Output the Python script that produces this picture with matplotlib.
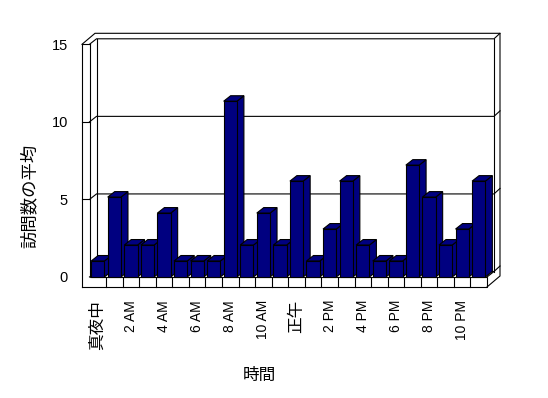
import numpy as np
import matplotlib
matplotlib.use("Agg")
import matplotlib.pyplot as plt
from matplotlib.lines import Line2D
from matplotlib.patches import Polygon

plt.rcParams["font.family"] = ["Liberation Sans", "Noto Sans CJK JP"]

# data
hours = list(range(24))
visits = [1, 5, 2, 2, 4, 1, 1, 1, 11, 2, 4, 2, 6, 1, 3, 6, 2, 1, 1, 7, 5, 2, 3, 6]
tick_labels = ["真夜中", "2 AM", "4 AM", "6 AM", "8 AM", "10 AM",
               "正午", "2 PM", "4 PM", "6 PM", "8 PM", "10 PM"]
yticks = [0, 5, 10, 15]
xlabel = "時間"
ylabel = "訪問数の平均"

navy = "#000080"
persp = 1.03          # bars sit a little nearer than the wall scale
D = (7, 5.5)          # depth of floor / bars, px
O = (13, 11)          # outer back of the wall slab, px
W = 7.5               # left wall thickness, px
F = 10                # floor thickness, px
lw = 0.8

fig = plt.figure(figsize=(5.48, 3.98), dpi=100)
L, R, B, T = 89.5, 487.0, 277.0, 44.3
ax = fig.add_axes([L / 548, 1 - B / 398, (R - L) / 548, (B - T) / 398])
ax.set_xlim(0, len(hours))
ax.set_ylim(0, 15)
for s in ax.spines.values():
    s.set_visible(False)
ax.patch.set_visible(False)

px2x = len(hours) / (R - L)
px2y = 15 / (B - T)
N = len(hours)


def P(X, Y, dx=0, dy=0):
    return (X + dx * px2x, Y + dy * px2y)


def seg(*pts):
    xs, ys = zip(*pts)
    ax.add_line(Line2D(xs, ys, color="black", lw=lw, clip_on=False, zorder=2,
                       solid_joinstyle="miter"))


# walls and floor
seg(P(0, 0, -W, -F), P(0, 15, -W, 0))
seg(P(0, 15), P(0, 0), P(N, 0), P(N, 0, 0, -F), P(0, 0, -W, -F))
seg(P(0, 15, -W, 0), P(0, 15, -W + O[0], O[1]), P(N, 15, O[0], O[1]),
    P(N, 0, O[0], O[1] - F), P(N, 0, 0, -F))
seg(P(N, 0), P(N, 0, D[0], D[1]))
seg(P(0, 0, D[0], D[1]), P(0, 15, D[0], D[1]))
seg(P(N, 0, D[0], D[1]), P(N, 15, D[0], D[1]))
for k in range(1, N):
    seg(P(k, 0), P(k, 0, 0, -F))
for g in yticks:
    if g > 0:
        seg(P(0, g, -W, 0), P(0, g))
    seg(P(0, g), P(0, g, D[0], D[1]), P(N, g, D[0], D[1]), P(N, g, O[0], O[1]))

# bars
x = np.arange(N) + 0.5
bars = ax.bar(x, np.array(visits) * persp, width=0.8, color=navy,
              edgecolor="black", linewidth=lw)
dx, dy = D[0] * px2x, D[1] * px2y
for i, b in enumerate(bars):
    x0, y0, w, h = b.get_x(), b.get_y(), b.get_width(), b.get_height()
    side = Polygon([(x0 + w, y0), (x0 + w + dx, y0 + dy),
                    (x0 + w + dx, y0 + h + dy), (x0 + w, y0 + h)],
                   facecolor=navy, edgecolor="black", lw=lw, zorder=3 + 2 * i,
                   clip_on=False)
    roof = Polygon([(x0, y0 + h), (x0 + w, y0 + h),
                    (x0 + w + dx, y0 + h + dy), (x0 + dx, y0 + h + dy)],
                   facecolor=navy, edgecolor="black", lw=lw, zorder=3 + 2 * i,
                   clip_on=False)
    ax.add_patch(side)
    ax.add_patch(roof)
    b.set_zorder(4 + 2 * i)
    b.set_clip_on(False)

ax.set_xticks(x[::2], tick_labels, rotation=90)
ax.tick_params(axis="x", length=0, pad=16.5, labelsize=10)
for t in ax.get_xticklabels():
    if not t.get_text().isascii():
        t.set_fontfamily("Noto Sans CJK JP")
        t.set_fontsize(12)
ax.set_yticks(yticks)
ax.tick_params(axis="y", length=0, pad=15.5, labelsize=10.5)

fig.text(259.7 / 548, 1 - 375.5 / 398, xlabel, ha="center", va="center",
         fontsize=12, family="Noto Sans CJK JP")
fig.text(30 / 548, 1 - 196 / 398, ylabel, ha="center", va="center",
         rotation=90, fontsize=12.5, family="Noto Sans CJK JP")

fig.savefig("out.png", dpi=100)
